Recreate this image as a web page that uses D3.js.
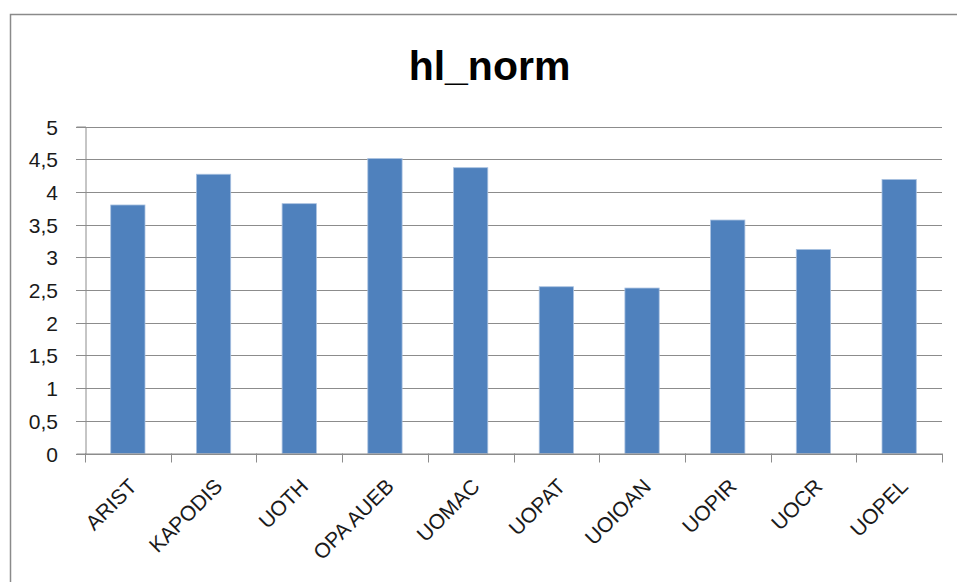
<!DOCTYPE html>
<html><head><meta charset="utf-8">
<script src="https://cdn.jsdelivr.net/npm/d3@7"></script>
<style>body{margin:0;background:#fff;}svg{display:block;}</style>
</head><body>
<script>
const title = "hl_norm";
const categories = ["ARIST","KAPODIS","UOTH","OPA AUEB","UOMAC","UOPAT","UOIOAN","UOPIR","UOCR","UOPEL"];
const values = [3.80,4.27,3.82,4.51,4.37,2.55,2.53,3.57,3.12,4.19];
const yTicks = [0,0.5,1,1.5,2,2.5,3,3.5,4,4.5,5];
const yTickLabels = ["0","0,5","1","1,5","2","2,5","3","3,5","4","4,5","5"];

const W=957,H=582;
const svg=d3.select("body").append("svg").attr("width",W).attr("height",H);
const font="'Liberation Sans', Arial, sans-serif";

// chart border
svg.append("rect").attr("x",10.5).attr("y",14.5).attr("width",W).attr("height",H)
  .attr("fill","#fff").attr("stroke","#8a8a8a").attr("stroke-width",1.5);

svg.append("text").attr("x",489.5).attr("y",80).attr("text-anchor","middle")
  .attr("font-family",font).attr("font-weight","bold").attr("font-size",41).attr("fill","#000").text(title);

const x0=85,x1=942,yTop=126.5,yBot=453.5;
const x=d3.scaleBand().domain(categories).range([x0,x1]).paddingInner(0.6).paddingOuter(0.3);
const y=d3.scaleLinear().domain([0,5]).range([yBot,yTop]);

// gridlines
svg.append("g").selectAll("line").data(yTicks).join("line")
  .attr("x1",76).attr("x2",x1).attr("y1",d=>Math.round(y(d))+0.5).attr("y2",d=>Math.round(y(d))+0.5)
  .attr("stroke","#8c8c8c").attr("stroke-width",1.2);

// y axis
const ya=svg.append("g").attr("transform",`translate(${x0+0.5},0)`)
  .call(d3.axisLeft(y).tickValues(yTicks).tickFormat((d,i)=>yTickLabels[i]).tickSize(9).tickPadding(18.5));
ya.select(".domain").attr("stroke","#8c8c8c");
ya.selectAll(".tick line").attr("stroke","#8c8c8c");
ya.selectAll("text").attr("font-family",font).attr("font-size",21).attr("fill","#1a1a1a").attr("dy","0.36em");
ya.selectAll(".tick").attr("transform",d=>`translate(0,${Math.round(y(d))+0.5})`);

// bars
svg.append("g").selectAll("rect").data(values).join("rect")
  .attr("x",(d,i)=>x(categories[i])).attr("width",x.bandwidth())
  .attr("y",d=>y(d)).attr("height",d=>yBot-y(d))
  .attr("fill","#4f81bd").attr("stroke","#a9c1e0").attr("stroke-width",0.8);

// x axis
const step=x.step();
const bounds=d3.range(categories.length+1).map(i=>x0+i*step);
const xa=svg.append("g");
xa.append("line").attr("x1",x0).attr("x2",x1).attr("y1",yBot+0.5).attr("y2",yBot+0.5).attr("stroke","#8c8c8c").attr("stroke-width",1.2);
xa.selectAll("line.t").data(bounds).join("line").attr("class","t")
  .attr("x1",d=>Math.round(d)+0.5).attr("x2",d=>Math.round(d)+0.5).attr("y1",yBot).attr("y2",yBot+9)
  .attr("stroke","#8c8c8c");
xa.selectAll("text").data(categories).join("text")
  .attr("transform",d=>`translate(${x(d)+x.bandwidth()/2+5},${yBot+29}) rotate(-45)`)
  .attr("text-anchor","end").attr("dy","0.35em")
  .attr("font-family",font).attr("font-size",21).attr("fill","#1a1a1a").text(d=>d);
</script>
</body></html>
